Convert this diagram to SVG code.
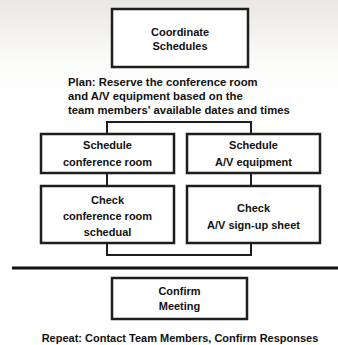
<svg xmlns="http://www.w3.org/2000/svg" width="338" height="345" viewBox="0 0 338 345">
<defs>
<linearGradient id="bg" x1="0" y1="0" x2="0" y2="1">
<stop offset="0" stop-color="#e9e7e3"/>
<stop offset="0.18" stop-color="#fbfbfa"/>
<stop offset="0.3" stop-color="#ffffff"/>
</linearGradient>
</defs>
<style>
.box{fill:#fff;stroke:#1e1e1e;stroke-width:2.5}
.ln{fill:none;stroke:#1e1e1e;stroke-width:2}
.t{font-family:"Liberation Sans",Arial,sans-serif;font-weight:bold;font-size:11px;fill:#111;text-anchor:middle}
.p{font-family:"Liberation Sans",Arial,sans-serif;font-weight:bold;font-size:11.3px;fill:#111}
</style>
<rect x="0" y="0" width="338" height="345" fill="url(#bg)"/>
<g id="connectors">
<polyline class="ln" points="107,134 107,122 251,122 251,134"/>
<line class="ln" x1="107" y1="173" x2="107" y2="186"/>
<line class="ln" x1="251" y1="173" x2="251" y2="186"/>
<polyline class="ln" points="107,243 107,255 251,255 251,243"/>
<line x1="12" y1="268" x2="338" y2="268" stroke="#111" stroke-width="3"/>
</g>
<g id="coordinate">
<rect class="box" x="112" y="9" width="136" height="58"/>
<text class="t" x="180" y="36">Coordinate</text>
<text class="t" x="180" y="50">Schedules</text>
</g>
<g id="plan">
<text class="p" x="68" y="86">Plan: Reserve the conference room</text>
<text class="p" x="68" y="100">and A/V equipment based on the</text>
<text class="p" x="68" y="114">team members' available dates and times</text>
</g>
<g id="schedule-room">
<rect class="box" x="41" y="134" width="133" height="39"/>
<text class="t" x="107.5" y="149">Schedule</text>
<text class="t" x="107.5" y="166">conference room</text>
</g>
<g id="schedule-av">
<rect class="box" x="187" y="134" width="133" height="39"/>
<text class="t" x="253.5" y="149">Schedule</text>
<text class="t" x="253.5" y="166">A/V equipment</text>
</g>
<g id="check-room">
<rect class="box" x="41" y="186" width="133" height="57"/>
<text class="t" x="107.5" y="204">Check</text>
<text class="t" x="107.5" y="220">conference room</text>
<text class="t" x="107.5" y="236">schedual</text>
</g>
<g id="check-av">
<rect class="box" x="187" y="186" width="133" height="57"/>
<text class="t" x="253.5" y="212">Check</text>
<text class="t" x="253.5" y="229">A/V sign-up sheet</text>
</g>
<g id="confirm">
<rect class="box" x="112" y="278" width="135" height="41"/>
<text class="t" x="179.5" y="295">Confirm</text>
<text class="t" x="179.5" y="310">Meeting</text>
</g>
<g id="repeat">
<text class="t" x="180" y="342">Repeat: Contact Team Members, Confirm Responses</text>
</g>
</svg>
